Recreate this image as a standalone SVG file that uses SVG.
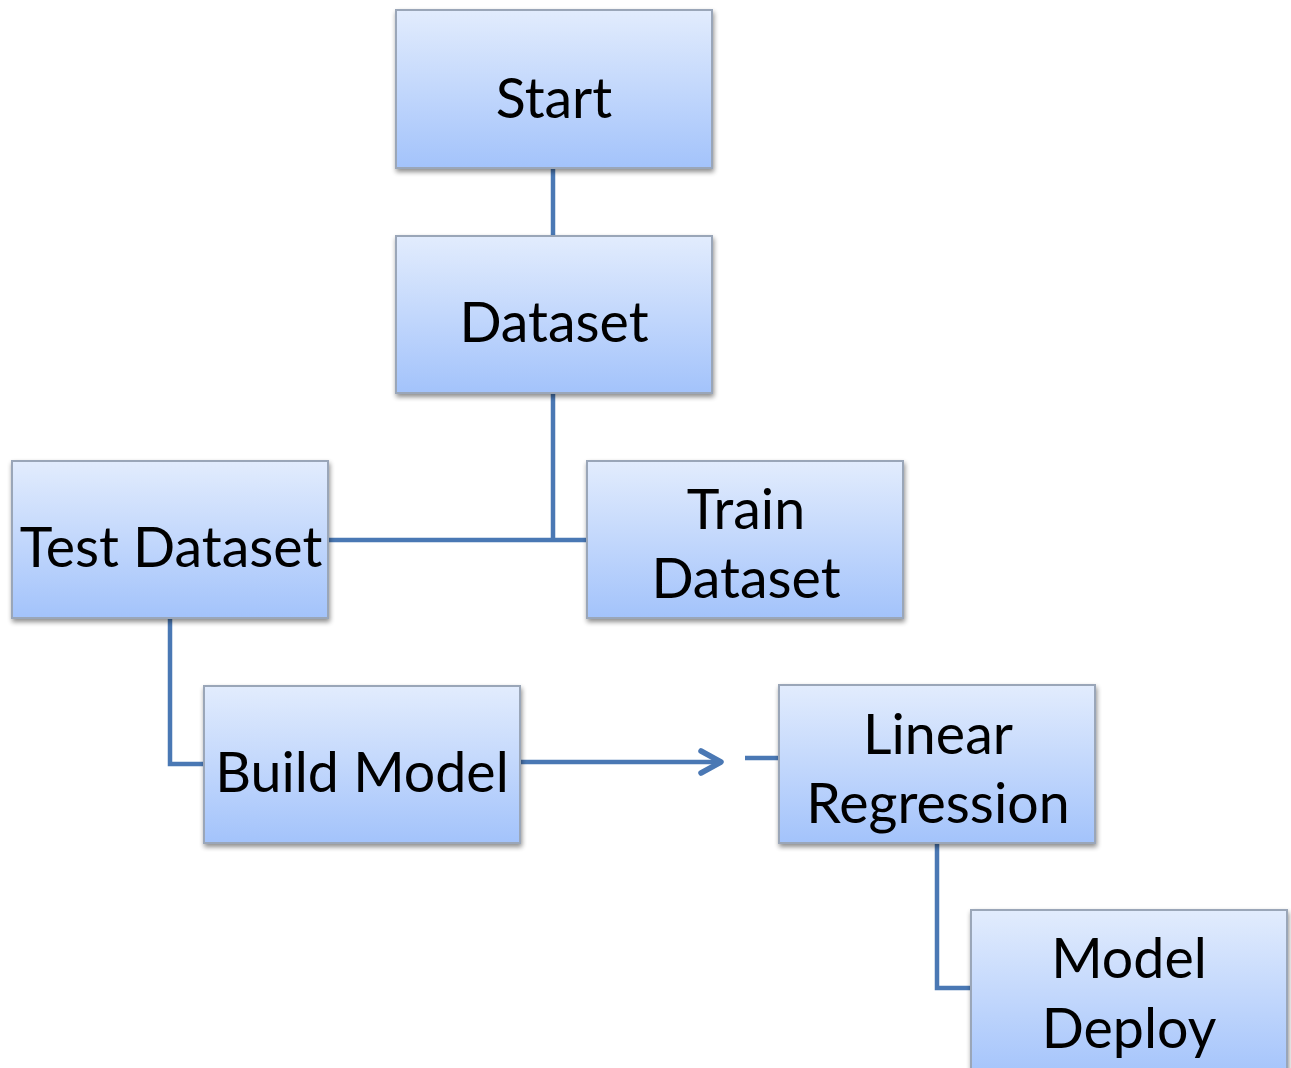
<svg xmlns="http://www.w3.org/2000/svg" width="1291" height="1068" viewBox="0 0 1291 1068">
  <defs>
    <linearGradient id="boxFill" x1="0" y1="0" x2="0" y2="1">
      <stop offset="0" stop-color="#e2ecfd"/>
      <stop offset="1" stop-color="#a3c3fb"/>
    </linearGradient>
    <filter id="shadow" x="-10%" y="-10%" width="120%" height="130%">
      <feGaussianBlur in="SourceAlpha" stdDeviation="2.5"/>
      <feOffset dx="1" dy="3" result="b"/>
      <feComponentTransfer><feFuncA type="linear" slope="0.45"/></feComponentTransfer>
      <feMerge><feMergeNode/><feMergeNode in="SourceGraphic"/></feMerge>
    </filter>
    <!-- open chevron head, sized in user space -->
    <marker id="chevron" viewBox="0 0 30 30" refX="25" refY="15" markerWidth="30" markerHeight="30" orient="auto" markerUnits="userSpaceOnUse">
      <path d="M5,4 L25,15 L5,26" fill="none" stroke="#4a78b4" stroke-width="5.5" stroke-linecap="round" stroke-linejoin="round"/>
    </marker>
  </defs>
  <style>
    .box { fill: url(#boxFill); stroke: #9aa6b8; stroke-width: 2; filter: url(#shadow); }
    .label { font-family: Lato, "Open Sans", sans-serif; font-size: 55.5px; fill: #000; text-anchor: middle; }
    .conn { fill: none; stroke: #4a78b4; stroke-width: 4.5; }
  </style>
  <rect width="1291" height="1068" fill="#ffffff"/>

  <g id="connectors">
    <path class="conn" d="M553,168 V236"/>
    <path class="conn" d="M553,393 V540 M328,540 H586"/>
    <path class="conn" d="M170,618 V764 H203"/>
    <path class="conn" d="M520,762 H721" marker-end="url(#chevron)"/>
    <path class="conn" d="M745,758 H791"/>
    <path class="conn" d="M937,843 V988 H971"/>
  </g>

  <g id="start">
    <rect class="box" x="396" y="10" width="316" height="158"/>
    <text class="label" x="554" y="118">Start</text>
  </g>
  <g id="dataset">
    <rect class="box" x="396" y="236" width="316" height="157"/>
    <text class="label" x="554" y="342">Dataset</text>
  </g>
  <g id="test-dataset">
    <rect class="box" x="12" y="461" width="316" height="157"/>
    <text class="label" x="171" y="567">Test Dataset</text>
  </g>
  <g id="train-dataset">
    <rect class="box" x="587" y="461" width="316" height="157"/>
    <text class="label" x="746" y="529">Train</text>
    <text class="label" x="746" y="598">Dataset</text>
  </g>
  <g id="build-model">
    <rect class="box" x="204" y="686" width="316" height="157"/>
    <text class="label" x="362" y="792">Build Model</text>
  </g>
  <g id="linear-regression">
    <rect class="box" x="779" y="685" width="316" height="158"/>
    <text class="label" x="938" y="754">Linear</text>
    <text class="label" x="938" y="823">Regression</text>
  </g>
  <g id="model-deploy">
    <rect class="box" x="971" y="910" width="316" height="170"/>
    <text class="label" x="1129" y="978">Model</text>
    <text class="label" x="1129" y="1048">Deploy</text>
  </g>
</svg>
